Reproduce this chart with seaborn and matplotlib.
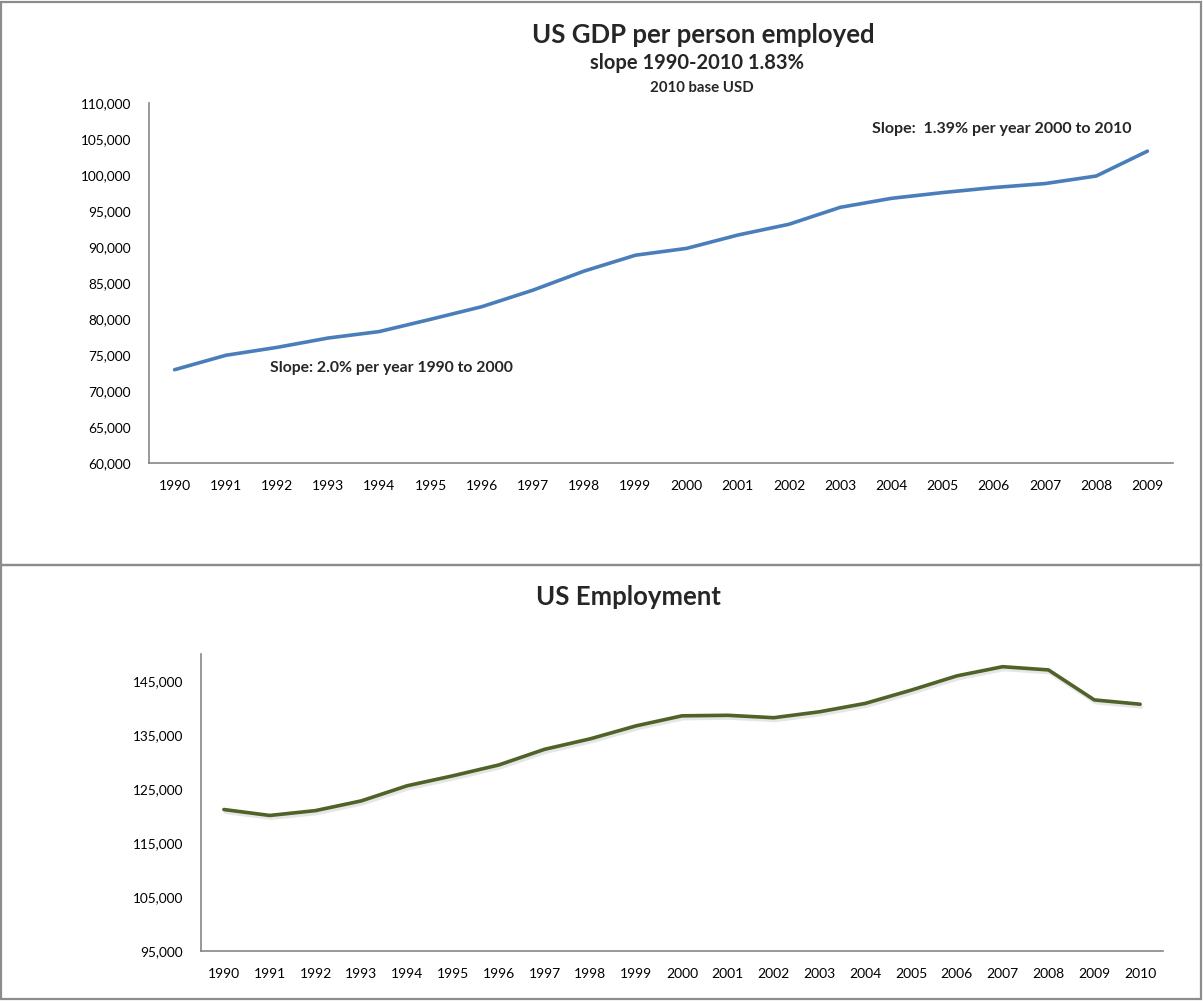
import numpy as np
import pandas as pd
import matplotlib
matplotlib.use("Agg")
import matplotlib.pyplot as plt
import matplotlib.patheffects as pe
from matplotlib.patches import Rectangle
from matplotlib.ticker import FuncFormatter, FixedLocator
import seaborn as sns

# GDP per person employed (2010 base USD), 1990-2009
gdp_years = [str(y) for y in range(1990, 2010)]
gdp_per_worker = [73000, 75000, 76100, 77400, 78300, 80000, 81750, 84050, 86700, 88900,
                  89850, 91700, 93200, 95550, 96800, 97600, 98300, 98850, 99900, 103350]

# US employment (thousands), 1990-2010
emp_years = [str(y) for y in range(1990, 2011)]
employment = [121200, 120100, 121000, 122800, 125600, 127450, 129450, 132350, 134300, 136700,
              138550, 138650, 138200, 139300, 140850, 143300, 145950, 147650, 147050, 141500, 140700]

gdp_title = "US GDP per person employed"
gdp_sub1 = "slope 1990-2010 1.83%"
gdp_sub2 = "2010 base USD"
note_late = "Slope:  1.39% per year 2000 to 2010"
note_early = "Slope: 2.0% per year 1990 to 2000"
emp_title = "US Employment"

sns.set_style("white")
plt.rcParams["font.family"] = ["Lato", "DejaVu Sans"]

W, H = 1203, 1001
fig = plt.figure(figsize=(W / 100, H / 100), dpi=100)

def fx(px):
    return px / W

def fy(py):
    return 1 - py / H

# chart frames
for y0, y1 in [(2, 565), (565, 999)]:
    fig.add_artist(Rectangle((fx(1), fy(y1)), fx(1200), (y1 - y0) / H, transform=fig.transFigure,
                             fill=False, edgecolor="#8c8c8c", linewidth=1.6))

axis_col = "#868686"
comma = FuncFormatter(lambda v, p: f"{int(v):,}")

def style_axis(ax, n):
    ax.set_xlim(-0.5, n - 0.5)
    for s in ["top", "right"]:
        ax.spines[s].set_visible(False)
    for s in ["left", "bottom"]:
        ax.spines[s].set_color(axis_col)
        ax.spines[s].set_linewidth(1.2)
    ax.xaxis.set_major_locator(FixedLocator(np.arange(n)))
    ax.xaxis.set_minor_locator(FixedLocator(np.arange(n + 1) - 0.5))
    ax.tick_params(axis="x", which="major", length=0, pad=12, labelsize=10, colors="black")
    ax.tick_params(axis="x", which="minor", length=5, width=1, color=axis_col, direction="out")
    ax.tick_params(axis="y", length=4, width=1, color=axis_col, direction="out", labelsize=9.8,
                   labelcolor="black", pad=9)
    ax.yaxis.set_major_formatter(comma)
    ax.set_xlabel("")
    ax.set_ylabel("")
    ax.grid(False)

# top chart
ax1 = fig.add_axes([fx(149), fy(463.3), fx(1173 - 149), (463.3 - 103.3) / H])
df1 = pd.DataFrame({"idx": np.arange(len(gdp_years)), "value": gdp_per_worker})
sns.lineplot(data=df1, x="idx", y="value", ax=ax1, color="#4A7EBB", linewidth=2.6)
ax1.set_ylim(60000, 110000)
ax1.set_yticks(np.arange(60000, 110001, 5000))
style_axis(ax1, len(gdp_years))
ax1.set_xticklabels(gdp_years)

fig.text(fx(703), fy(35), gdp_title, ha="center", va="center", fontsize=18.5, fontweight="bold")
fig.text(fx(697), fy(63), gdp_sub1, ha="center", va="center", fontsize=14.5, fontweight="bold")
fig.text(fx(702), fy(88), gdp_sub2, ha="center", va="center", fontsize=10.8, fontweight="bold")
fig.text(fx(1002), fy(129), note_late, ha="center", va="center", fontsize=11.5, fontweight="bold")
fig.text(fx(270), fy(368), note_early, ha="left", va="center", fontsize=11.3, fontweight="bold")

# bottom chart
ax2 = fig.add_axes([fx(201), fy(951), fx(1163 - 201), (951 - 654) / H])
df2 = pd.DataFrame({"idx": np.arange(len(emp_years)), "value": employment})
sns.lineplot(data=df2, x="idx", y="value", ax=ax2, color="#4F6228", linewidth=2.6)
ax2.lines[0].set_path_effects([pe.SimpleLineShadow(offset=(1, -2), shadow_color="#cfcfcf", alpha=0.5),
                               pe.Normal()])
ax2.set_ylim(95000, 150000)
ax2.set_yticks(np.arange(95000, 145001, 10000))
style_axis(ax2, len(emp_years))
ax2.set_xticklabels(emp_years)

fig.text(fx(628), fy(597), emp_title, ha="center", va="center", fontsize=18.5, fontweight="bold")

fig.savefig("out.png", dpi=100)
